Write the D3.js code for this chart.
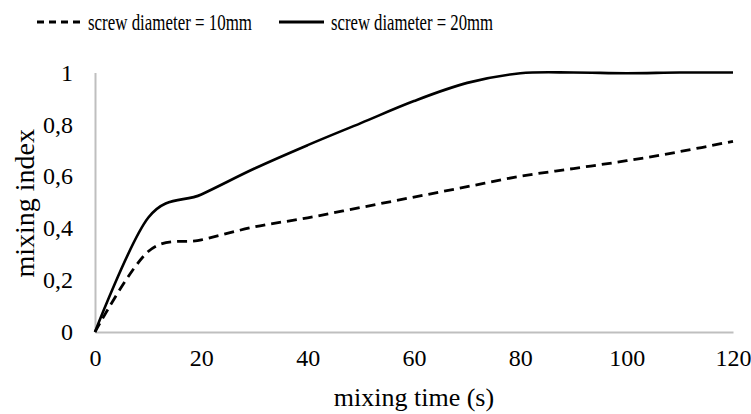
<!DOCTYPE html>
<html>
<head>
<meta charset="utf-8">
<script src="https://cdn.jsdelivr.net/npm/d3@7"></script>
<style>
  html, body { margin: 0; padding: 0; background: #fff; }
  svg { display: block; }
  text { font-family: "Liberation Serif", "Times New Roman", serif; fill: #000; }
</style>
</head>
<body>
<svg id="chart" width="751" height="414"></svg>
<script>
// ---- data ----
const times = [0, 10, 20, 30, 40, 50, 60, 70, 80, 90, 100, 110, 120];
const dia10 = [0, 0.31, 0.355, 0.405, 0.44, 0.48, 0.52, 0.56, 0.60, 0.63, 0.66, 0.695, 0.735];
const dia20 = [0, 0.44, 0.53, 0.63, 0.72, 0.805, 0.89, 0.96, 0.997, 1.0, 0.997, 1.0, 1.0];
const seriesNames = ["screw diameter = 10mm", "screw diameter = 20mm"];
const xTicks = [0, 20, 40, 60, 80, 100, 120];
const yTicks = [0, 0.2, 0.4, 0.6, 0.8, 1];
const xTitle = "mixing time (s)";
const yTitle = "mixing index";

// ---- layout ----
const svg = d3.select("#chart");
const mLeft = 95, mRight = 733, mTop = 72.5, mBottom = 332;
const serif = "'Liberation Serif', 'Times New Roman', serif";

const x = d3.scaleLinear().domain([0, 120]).range([mLeft, mRight]);
const y = d3.scaleLinear().domain([0, 1]).range([mBottom, mTop]);

const fmt = v => String(+v.toFixed(1)).replace(".", ",");

// axes
const xAxis = svg.append("g").attr("transform", `translate(0,${mBottom})`)
  .call(d3.axisBottom(x).tickValues(xTicks).tickSize(0).tickPadding(17).tickFormat(d => d))
  .attr("font-family", serif).attr("font-size", 24);
xAxis.select(".domain").attr("stroke", "#bfbfbf").attr("stroke-width", 2);
xAxis.selectAll("text").attr("fill", "#000");

const yAxis = svg.append("g").attr("transform", `translate(${mLeft},0)`)
  .call(d3.axisLeft(y).tickValues(yTicks).tickSize(0).tickPadding(22).tickFormat(fmt))
  .attr("font-family", serif).attr("font-size", 24);
yAxis.select(".domain").attr("stroke", "#bfbfbf").attr("stroke-width", 2);
yAxis.selectAll("text").attr("fill", "#000");

// lines
const line = vals => d3.line()
  .x((d, i) => x(times[i]))
  .y(d => y(d))
  .curve(d3.curveCatmullRom.alpha(0))(vals);

svg.append("path").attr("d", line(dia10))
  .attr("fill", "none").attr("stroke", "#000").attr("stroke-width", 2.8)
  .attr("stroke-dasharray", "10,6");
svg.append("path").attr("d", line(dia20))
  .attr("fill", "none").attr("stroke", "#000").attr("stroke-width", 2.6);

// axis titles
svg.append("text").attr("x", (mLeft + mRight) / 2).attr("y", 406)
  .attr("text-anchor", "middle").style("font-size", "26px").text(xTitle);
svg.append("text")
  .attr("transform", `translate(34,${(mTop + mBottom) / 2 + 1}) rotate(-90)`)
  .attr("text-anchor", "middle").style("font-size", "28px").text(yTitle);

// legend
const leg = svg.append("g");
leg.append("line").attr("x1", 37).attr("x2", 80).attr("y1", 22).attr("y2", 22)
  .attr("stroke", "#000").attr("stroke-width", 2.8).attr("stroke-dasharray", "7,5");
leg.append("text").attr("x", 88).attr("y", 29.5).style("font-size", "23px")
  .attr("textLength", 164).attr("lengthAdjust", "spacingAndGlyphs").text(seriesNames[0]);
leg.append("line").attr("x1", 279).attr("x2", 324).attr("y1", 22).attr("y2", 22)
  .attr("stroke", "#000").attr("stroke-width", 2.8);
leg.append("text").attr("x", 331).attr("y", 29.5).style("font-size", "23px")
  .attr("textLength", 162).attr("lengthAdjust", "spacingAndGlyphs").text(seriesNames[1]);
</script>
</body>
</html>
